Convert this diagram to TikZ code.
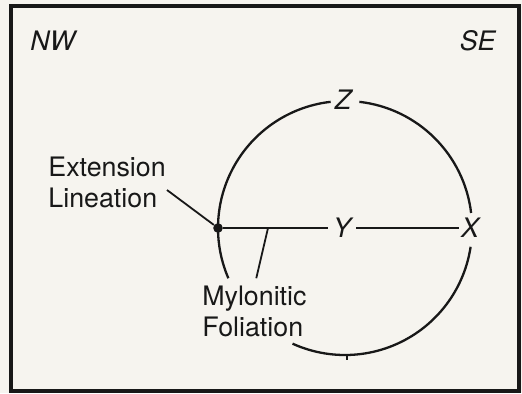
\documentclass[tikz,border=0pt]{standalone}
\usepackage{fontspec}
\setmainfont{TeX Gyre Heros}
\usepackage{tikz}
\usetikzlibrary{positioning}
\definecolor{paper}{RGB}{246,244,239}
\definecolor{ink}{RGB}{24,24,24}
\tikzset{
  lbl/.style={font=\fontsize{13.4}{15.5}\selectfont, text=ink, inner sep=0pt, align=left},
  ax/.style={font=\fontsize{13.4}{15.5}\selectfont\itshape, text=ink, inner sep=2.5pt},
  pt/.style={circle, fill=ink, inner sep=0pt, minimum size=4.8pt},
  trace/.style={line width=1.15pt, draw=ink},
  lead/.style={line width=0.9pt, draw=ink},
}

\begin{document}
\begin{tikzpicture}[x=0.5pt,y=-0.5pt]
\fill[paper] (0,0) rectangle (522,393);
\useasboundingbox (0,0) rectangle (522,393);
\draw[line width=1.6pt, ink] (11,6) rectangle (519,391);

% corner labels
\node[ax, inner sep=0pt, anchor=base west] (nw) at (30,50) {NW};
\node[ax, inner sep=0pt, anchor=base east] (se) at (496,50) {SE};

% section circle, gaps at Z, X and the foliation label
\coordinate (c) at (345,228);
\node[ax] (z) at (343,100) {Z};
\draw[trace] ([shift={(263.5:127)}]c) arc[start angle=263.5, end angle=156.7, radius=127];
\draw[trace] ([shift={(114.4:127)}]c) arc[start angle=114.4, end angle=8.5, radius=127];
\draw[trace] ([shift={(353.2:127)}]c) arc[start angle=353.2, end angle=276.5, radius=127];
\draw[trace] (347,355) -- (347,360);

% lineation and foliation trace
\node[pt] (el) at (218,228) {};
\node[ax] (y) at (342,228) {Y};
\node[ax, inner sep=1pt] (x) at (470,228) {X};
\draw[trace] (el) -- (y);
\draw[trace] (y) -- (x);

% labels and leaders
\node[lbl, anchor=north west] (ext) at (48,157) {Extension\\Lineation};
\node[lbl, anchor=north west] (myl) at (202,286) {Mylonitic\\Foliation};
\coordinate (extEnd) at (167,190);
\coordinate (fol) at (268,228);
\draw[lead] (extEnd) -- (el);
\draw[lead, shorten >=4pt] (fol) -- (myl.north);
\end{tikzpicture}
\end{document}
